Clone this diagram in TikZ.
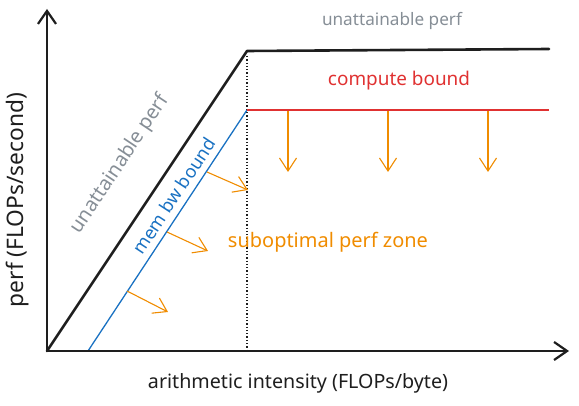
\documentclass[tikz,border=0pt]{standalone}
\usepackage{fontspec}
\setmainfont{Noto Sans}
\usetikzlibrary{arrows.meta}
\definecolor{exblack}{HTML}{1E1E1E}
\definecolor{exgray}{HTML}{868E96}
\definecolor{exred}{HTML}{E03131}
\definecolor{exblue}{HTML}{1971C2}
\definecolor{exorange}{HTML}{F08C00}
\newcommand{\fitw}[2]{\resizebox{#1}{!}{#2}}
\tikzset{
  axisline/.style={exblack, line width=2.6pt, line cap=round, -{Straight Barb[length=13pt,width=18pt,line width=2.2pt]}},
  roofline/.style={exblack, line width=2.6pt, line join=round, line cap=round},
  bwline/.style={exblue, line width=1.3pt},
  redline/.style={exred, line width=1.3pt},
  ridge/.style={exblack, line width=1.3pt, dotted},
  zonearrow/.style={exorange, line width=1.1pt, -{Straight Barb[length=13pt,width=17pt,line width=1.1pt]}},
  lbl/.style={inner sep=0pt, anchor=center},
}
\begin{document}
\begin{tikzpicture}[x=1pt,y=-1pt]
\useasboundingbox (0,0) rectangle (579,406);
% coordinates
\coordinate (O) at (47,351);
\coordinate (ytop) at (47,9);
\coordinate (xend) at (569,351);
\coordinate (K) at (247,51);
\coordinate (Rend) at (549,49);
\coordinate (B0) at (88,351);
\coordinate (BK) at (247,110);
\coordinate (Cend) at (549,110);
\coordinate (D0) at (247,351);
\coordinate (D1) at (247,56);
% down arrows
\coordinate (v1s) at (288,111); \coordinate (v1e) at (288,172);
\coordinate (v2s) at (388,111); \coordinate (v2e) at (388,172);
\coordinate (v3s) at (488,111); \coordinate (v3e) at (488,172);
% diagonal arrows
\coordinate (d1s) at (207,172); \coordinate (d1e) at (248,190);
\coordinate (d2s) at (167,232); \coordinate (d2e) at (208,251);
\coordinate (d3s) at (127,291); \coordinate (d3e) at (168,312);
% ridge
\draw[ridge] (D1) -- (D0);
% roof
\draw[roofline] (O) -- (K) -- (Rend);
% bounds
\draw[bwline] (B0) -- (BK);
\draw[redline] (BK) -- (Cend);
% zone arrows
\draw[zonearrow] (v1s) -- (v1e);
\draw[zonearrow] (v2s) -- (v2e);
\draw[zonearrow] (v3s) -- (v3e);
\draw[zonearrow] (d1s) -- (d1e);
\draw[zonearrow] (d2s) -- (d2e);
\draw[zonearrow] (d3s) -- (d3e);
% axes
\draw[axisline] (O) -- (ytop);
\draw[axisline] (O) -- (xend);
% labels
\node[lbl, text=exgray] (ttop) at (392,21) {\fitw{140pt}{unattainable perf}};
\node[lbl, text=exred] (tcomp) at (399,81) {\fitw{142pt}{compute bound}};
\node[lbl, text=exgray, rotate=56.3] (tslope) at (120,164) {\fitw{162pt}{unattainable perf}};
\node[lbl, text=exblue, rotate=56.8] (tbw) at (174,196) {\fitw{134pt}{mem bw bound}};
\node[lbl, text=exorange] (tzone) at (328,242) {\fitw{200pt}{suboptimal perf zone}};
\node[lbl, text=exblack, rotate=90] (ty) at (18,200) {\fitw{214pt}{perf (FLOPs/second)}};
\node[lbl, text=exblack] (tx) at (298,383) {\fitw{300pt}{arithmetic intensity (FLOPs/byte)}};
\end{tikzpicture}
\end{document}
